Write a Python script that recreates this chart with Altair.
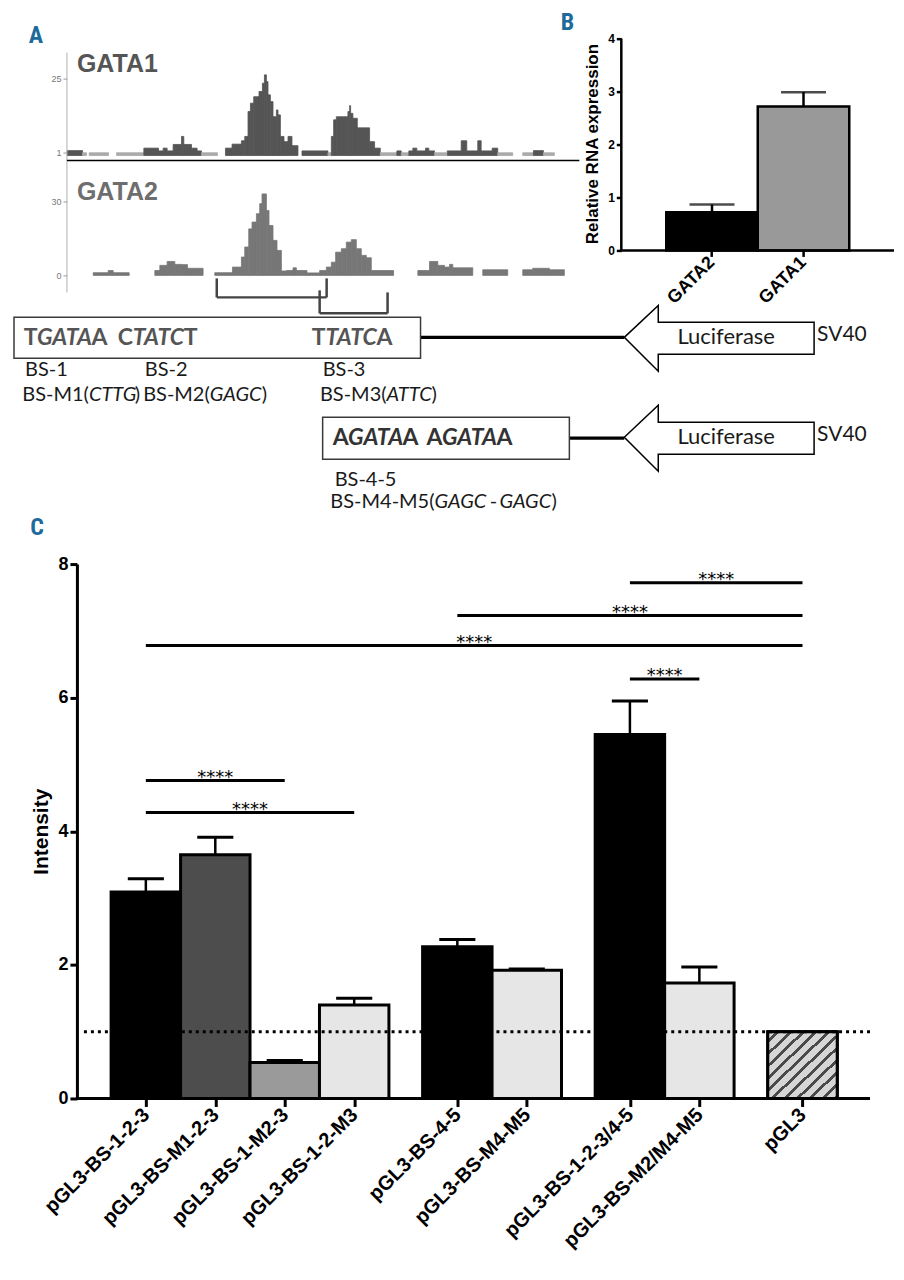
import json
import altair as alt
import pandas as pd

SANS = "Liberation Sans"
HUMAN = "Lato"
NARROW = "Liberation Sans Narrow, Roboto Condensed, Liberation Sans"
BLUE = "#1d6a9b"

# ---------------- data ----------------
# Panel A: ChIP-seq coverage (start, end, signal) along the locus
gata1_segments = [
    (7.3, 22.7, 1.6), (22.7, 26.7, 0.9), (29.3, 48.7, 0.9), (56.7, 84.0, 0.9),
    (84.0, 98.7, 2.4), (98.7, 103.3, 1.5), (103.3, 107.3, 2.4), (107.3, 113.3, 1.5),
    (113.3, 121.7, 3.6), (121.7, 124.0, 6.2), (124.0, 131.7, 3.6), (131.7, 137.3, 2.4),
    (137.3, 141.7, 1.5), (141.7, 157.7, 0.9), (165.7, 172.3, 2.4), (172.3, 181.7, 3.7),
    (181.7, 185.0, 4.8), (185.0, 188.3, 6.2), (188.3, 190.7, 14.3), (190.7, 194.0, 17.0),
    (194.0, 199.3, 19.1), (199.3, 202.7, 20.8), (202.7, 204.7, 23.5), (204.7, 206.7, 26.2),
    (206.7, 208.3, 24.0), (208.3, 210.7, 19.7), (210.7, 213.3, 17.5), (213.3, 216.7, 12.6),
    (216.7, 218.3, 14.8), (218.3, 220.7, 13.2), (220.7, 224.3, 6.2), (224.3, 228.3, 4.5),
    (228.3, 232.3, 6.2), (232.3, 238.3, 3.2), (242.3, 268.3, 1.5), (268.3, 271.7, 0.9),
    (271.7, 274.0, 6.2), (274.0, 276.7, 11.6), (276.7, 288.3, 12.6), (288.3, 290.0, 14.3),
    (290.0, 291.0, 16.2), (291.0, 293.3, 13.7), (293.3, 297.7, 12.1), (297.7, 310.0, 9.0),
    (310.0, 315.0, 4.5), (315.0, 320.7, 2.4), (320.7, 337.3, 0.9), (337.3, 341.7, 1.5),
    (341.7, 349.3, 0.9), (349.3, 353.3, 1.5), (353.3, 357.3, 2.4), (357.3, 366.0, 1.5),
    (366.0, 369.3, 2.4), (369.3, 375.0, 1.5), (375.0, 386.7, 0.9), (387.7, 401.7, 1.5),
    (401.7, 407.3, 4.8), (407.3, 418.3, 1.5), (418.3, 421.7, 4.8), (421.7, 432.7, 1.5),
    (432.7, 438.3, 2.4), (438.3, 453.3, 0.9), (463.3, 474.0, 0.9), (474.0, 484.0, 1.6),
    (484.0, 495.0, 0.9),
]
gata2_segments = [
    (33.3, 48.3, 1.1), (48.3, 53.3, 2.0), (53.3, 69.3, 1.1), (95.0, 100.0, 2.0),
    (100.0, 107.3, 4.1), (107.3, 115.0, 5.7), (115.0, 121.7, 4.5), (121.7, 127.7, 4.4),
    (127.7, 143.3, 2.9), (155.0, 172.7, 1.1), (172.7, 181.7, 3.4), (181.7, 185.0, 7.5),
    (185.0, 189.0, 11.6), (189.0, 192.3, 19.0), (192.3, 196.7, 21.8), (196.7, 200.0, 25.2),
    (200.0, 202.3, 29.3), (202.3, 206.7, 33.3), (206.7, 209.3, 26.5), (209.3, 213.3, 20.4),
    (213.3, 217.3, 14.3), (217.3, 221.7, 10.2), (221.7, 226.7, 1.8), (226.7, 233.3, 2.0),
    (233.3, 236.7, 3.1), (236.7, 247.3, 2.0), (247.3, 260.0, 1.0), (260.0, 266.7, 2.0),
    (266.7, 271.7, 3.4), (271.7, 276.0, 5.4), (276.0, 281.7, 9.5), (281.7, 286.7, 10.9),
    (286.7, 291.7, 13.6), (291.7, 296.7, 14.6), (296.7, 301.7, 10.9), (301.7, 306.7, 8.2),
    (306.7, 311.7, 7.2), (311.7, 334.0, 2.0), (358.3, 370.0, 2.0), (370.0, 378.3, 5.7),
    (378.3, 385.0, 4.1), (385.0, 390.0, 3.4), (390.0, 393.3, 4.5), (393.3, 413.3, 3.1),
    (423.3, 448.3, 2.3), (463.3, 473.3, 2.3), (473.3, 490.0, 2.9), (490.0, 505.0, 2.3),
]
gata1_ticks = [1, 25]
gata2_ticks = [0, 30]

# Panel B
rna_gene = ["GATA2", "GATA1"]
rna_mean = [0.72, 2.72]
rna_upper = [0.87, 2.99]

# Panel C
construct = ["pGL3-BS-1-2-3", "pGL3-BS-M1-2-3", "pGL3-BS-1-M2-3", "pGL3-BS-1-2-M3",
             "pGL3-BS-4-5", "pGL3-BS-M4-M5", "pGL3-BS-1-2-3/4-5", "pGL3-BS-M2/M4-M5", "pGL3"]
construct_group = [0, 0, 0, 0, 1, 1, 2, 2, 3]
intensity_mean = [3.09, 3.65, 0.54, 1.40, 2.27, 1.92, 5.45, 1.73, 1.00]
intensity_upper = [3.29, 3.91, 0.57, 1.50, 2.38, 1.94, 5.95, 1.97, None]
sig_from = ["pGL3-BS-1-2-3", "pGL3-BS-1-2-3", "pGL3-BS-1-2-3/4-5",
            "pGL3-BS-1-2-3", "pGL3-BS-4-5", "pGL3-BS-1-2-3/4-5"]
sig_to = ["pGL3-BS-1-M2-3", "pGL3-BS-1-2-M3", "pGL3-BS-M2/M4-M5", "pGL3", "pGL3", "pGL3"]
sig_level = [4.76, 4.28, 6.28, 6.78, 7.23, 7.72]
sig_mark = ["****"] * 6

# ---------------- styles ----------------
construct_fill = ["#000000", "#4d4d4d", "#9a9a9a", "#e6e6e6", "#000000",
                  "#e6e6e6", "#000000", "#e6e6e6", "#d4d4d4"]
letter_style = dict(font=NARROW, fontSize=24, fontWeight="bold", color=BLUE,
                    align="center", baseline="middle")
ONE = pd.DataFrame({"t": [0]})


def rule(x, x2, y, y2, **kw):
    return alt.Chart(ONE).mark_rule(**kw).encode(
        x=alt.value(x), x2=alt.value(x2), y=alt.value(y), y2=alt.value(y2))


def label(text, x, y, **kw):
    return alt.Chart(pd.DataFrame({"t": [text]})).mark_text(**kw).encode(
        text="t:N", x=alt.value(x), y=alt.value(y))


ROW_W = 888

# ---------------- Row 1: panel A tracks + panel B ----------------
track_x = alt.Scale(domain=[-52, 836], nice=False, zero=False)


def track(segments, ticks, ydom, dark, light):
    df = pd.DataFrame(segments, columns=["start", "end", "signal"])
    shade = alt.condition(alt.datum.signal < 1, alt.value(light), alt.value(dark))
    return alt.Chart(df).mark_rect(strokeWidth=0.8).encode(
        x=alt.X("start:Q", scale=track_x, axis=None),
        x2="end:Q",
        y=alt.Y("signal:Q", scale=alt.Scale(domain=ydom, nice=False, zero=False),
                axis=alt.Axis(orient="left", offset=-59, values=ticks, format="d", title=None, grid=False,
                              labelFontSize=9, labelColor="#777", tickColor="#999", tickSize=4,
                              domain=False, tickWidth=1, labelPadding=2)),
        y2=alt.datum(0),
        fill=shade,
        stroke=shade,
    )


gata1 = track(gata1_segments, gata1_ticks, [-44.44, 47.68], "#555555", "#aaaaaa")
gata2 = track(gata2_segments, gata2_ticks, [-6.94, 108.98], "#777777", "#777777")

rna = pd.DataFrame({"gene": rna_gene, "mean": rna_mean, "upper": rna_upper})
bx_scale = alt.Scale(domain=rna_gene, range=[659, 842.2], paddingInner=0, paddingOuter=0)
by_scale = alt.Scale(domain=[-0.792, 4.566], nice=False, zero=False)
bx = alt.X("gene:N", sort=rna_gene, scale=bx_scale,
           axis=alt.Axis(orient="bottom", offset=-42, title=None, labelAngle=-45, labelAlign="right",
                         labelBaseline="middle", labelFontSize=18, labelFontWeight="bold", tickSize=6,
                         tickWidth=2.5, domain=False, labelPadding=3))
by = alt.Y("mean:Q", scale=by_scale,
           axis=alt.Axis(orient="left", offset=-614, values=[0, 1, 2, 3, 4], format="d",
                         title="Relative RNA expression", titleFontSize=17, titleFontWeight="bold",
                         titleY=135, labelFontSize=12, labelFontWeight="bold", tickSize=5, tickWidth=2.5,
                         domain=False, grid=False, titlePadding=6, labelPadding=2))
b_bars = alt.Chart(rna).mark_bar(stroke="black", strokeWidth=2.5).encode(
    x=bx, y=by,
    fill=alt.Fill("gene:N", scale=alt.Scale(domain=rna_gene, range=["#000000", "#999999"]), legend=None))
b_stem = alt.Chart(rna).mark_rule(strokeWidth=2.5, color="black").encode(
    x=alt.X("gene:N", sort=rna_gene), y="mean:Q", y2="upper:Q")
b_cap = alt.Chart(rna).mark_tick(size=45, thickness=2.5, color="black").encode(
    x=alt.X("gene:N", sort=rna_gene), y="upper:Q")
panel_b = alt.layer(b_stem, b_bars, b_cap)

row1_deco = alt.layer(
    rule(59, 59, 44, 284, color="#b0b0b0", strokeWidth=1),              # track y axis line
    rule(59, 572, 152, 152, color="black", strokeWidth=1.5),            # track separator
    rule(614, 614, 30, 242, color="black", strokeWidth=2.5),            # panel B y axis line
    rule(614, 887, 242, 242, color="black", strokeWidth=2.5),           # panel B x axis line
    label("GATA1", 69, 55, font=SANS, fontSize=25, fontWeight="bold", color="#555555",
          align="left", baseline="middle"),
    label("GATA2", 69, 184, font=SANS, fontSize=25, fontWeight="bold", color="#6e6e6e",
          align="left", baseline="middle"),
    label("A", 28, 27, **letter_style),
    label("B", 560, 14, **letter_style),
)

row1 = (alt.layer(gata1, gata2, panel_b, row1_deco)
        .resolve_scale(x="independent", y="independent", fill="independent", stroke="independent")
        .properties(width=ROW_W, height=284))

# ---------------- Row 2: schematic (layout, pixel coordinates) ----------------
boxes = pd.DataFrame({"x": [6, 315], "y": [25, 125], "x2": [413, 562], "y2": [66, 167]})
connectors = pd.DataFrame({"x": [413, 562], "y": [45, 146], "x2": [617, 617], "y2": [45, 146]})
brackets = pd.DataFrame({
    "x": [209, 209, 319, 312, 312, 380],
    "y": [-14, 5, -14, -2, 21, 0],
    "x2": [209, 319, 319, 312, 380, 380],
    "y2": [5, 5, 5, 21, 21, 21],
})
arrows = pd.DataFrame({"x": [617, 617], "y": [45, 145]})
ARROW = "M0,0 L34,-32 L34,-15 L190,-15 L190,17 L34,17 L34,34 Z"

# motifs: flanking base, italic core, flanking base, core centre x, y, colour
motifs = [
    ("T", "GATA", "A", 56.5, 46, "#555555"),
    ("C", "TATC", "T", 150.5, 46, "#555555"),
    ("T", "TATC", "A", 343.5, 46, "#555555"),
    ("A", "GATA", "A", 368, 146, "#333333"),
    ("A", "GATA", "A", 462, 146, "#333333"),
]
core_width = {"GATA": 53, "TATC": 50}
rows = []
for left, core, right, cx, cy, col in motifs:
    half = core_width[core] / 2
    rows.append((left, cx - half - 0.5, cy, "mr", "right", col))
    rows.append((core, cx, cy, "mi", "center", col))
    rows.append((right, cx + half + 0.5, cy, "mr", "left", col))

INK = "#1a1a1a"
rows += [
    ("BS-1", 17, 78, "r", "left", INK), ("BS-2", 137, 78, "r", "left", INK), ("BS-3", 315, 78, "r", "left", INK),
    ("BS-M1(", 81, 103, "r", "right", INK), ("CTTG", 81, 103, "i", "left", INK), (")", 127, 103, "r", "left", INK),
    ("BS-M2(", 202, 103, "r", "right", INK), ("GAGC", 202, 103, "i", "left", INK), (")", 254, 103, "r", "left", INK),
    ("BS-M3(", 379, 103, "r", "right", INK), ("ATTC", 379, 103, "i", "left", INK), (")", 424, 103, "r", "left", INK),
    ("BS-4-5", 327, 188, "r", "left", INK),
    ("BS-M4-M5(", 427, 210, "r", "right", INK), ("GAGC", 427, 210, "i", "left", INK),
    ("-", 486, 210, "r", "center", INK), ("GAGC", 492, 210, "i", "left", INK), (")", 544, 210, "r", "left", INK),
    ("Luciferase", 719, 45, "luc", "center", INK), ("Luciferase", 719, 145, "luc", "center", INK),
    ("SV40", 810, 43, "sv", "left", INK), ("SV40", 810, 143, "sv", "left", INK),
]
pieces = pd.DataFrame(rows, columns=["text", "x", "y", "style", "align", "color"])
piece_style = {
    "mr": dict(fontSize=23, fontWeight="bold"),
    "mi": dict(fontSize=23, fontWeight="bold", fontStyle="italic"),
    "r": dict(fontSize=20),
    "i": dict(fontSize=20, fontStyle="italic"),
    "luc": dict(fontSize=22),
    "sv": dict(fontSize=21),
}

PX = dict(x=alt.X("x:Q", scale=None, axis=None), y=alt.Y("y:Q", scale=None, axis=None))

s_boxes = alt.Chart(boxes).mark_rect(fill="white", stroke="#3a3a3a", strokeWidth=1.5).encode(
    x2="x2:Q", y2="y2:Q", **PX)
s_conn = alt.Chart(connectors).mark_rule(color="black", strokeWidth=3.2).encode(x2="x2:Q", y2="y2:Q", **PX)
s_brk = alt.Chart(brackets).mark_rule(color="#444444", strokeWidth=2.5).encode(x2="x2:Q", y2="y2:Q", **PX)
s_arrow = alt.Chart(arrows).mark_point(shape=ARROW, size=4, filled=True, fill="white", stroke="black",
                                       strokeWidth=1.5, opacity=1).encode(**PX)

text_layers = []
for (st, al), _ in pieces.groupby(["style", "align"]):
    text_layers.append(
        alt.Chart(pieces)
        .transform_filter((alt.datum.style == st) & (alt.datum.align == al))
        .mark_text(font=HUMAN, align=al, baseline="middle", **piece_style[st])
        .encode(text="text:N", color=alt.Color("color:N", scale=None), **PX)
    )

schematic = alt.layer(s_brk, s_conn, s_boxes, s_arrow, *text_layers,
                      label("C", 29, 236, **letter_style)).properties(width=ROW_W, height=272)

# ---------------- Row 3: panel C ----------------
c_df = pd.DataFrame({"name": construct, "group": construct_group,
                     "mean": intensity_mean, "upper": intensity_upper})
c_df["idx"] = range(len(c_df))
c_df["pos"] = 200 * c_df["idx"] + 97 * c_df["group"]
pos_of = dict(zip(c_df["name"], c_df["pos"]))

sig_df = pd.DataFrame({"a": sig_from, "b": sig_to, "h": sig_level, "mark": sig_mark})
sig_df["xa"] = sig_df["a"].map(pos_of)
sig_df["xb"] = sig_df["b"].map(pos_of)
sig_df["xm"] = (sig_df["xa"] + sig_df["xb"]) / 2

positions = [int(p) for p in c_df["pos"]]
label_expr = f"{json.dumps(construct)}[indexof({json.dumps(positions)}, datum.value)]"

C_H = 535
xs = alt.Scale(domain=[-396.96, 2157.4], nice=False, zero=False)
ys = alt.Scale(domain=[0, 8], nice=False)
x_axis = alt.Axis(values=positions, labelExpr=label_expr, labelAngle=-45, labelAlign="right",
                  labelBaseline="middle", labelFontSize=20, labelFontWeight="bold",
                  tickSize=8, tickWidth=3, domain=False, grid=False, title=None, labelPadding=5,
                  labelOverlap=False, labelFlush=False, labelLimit=0)
y_axis = alt.Axis(orient="left", offset=-69, values=[0, 2, 4, 6, 8], format="d", labelFontSize=18,
                  labelFontWeight="bold", tickSize=7, tickWidth=3, domainWidth=3, grid=False,
                  title="Intensity", titleFontSize=21, titleFontWeight="bold", titlePadding=6, labelPadding=2)

c_base = alt.Chart(c_df).transform_calculate(x0="datum.pos - 100", x1="datum.pos + 100",
                                             c0="datum.pos - 52", c1="datum.pos + 52")
c_bars = c_base.mark_bar(stroke="black", strokeWidth=3).encode(
    x=alt.X("x0:Q", scale=xs, axis=x_axis), x2="x1:Q",
    y=alt.Y("mean:Q", scale=ys, axis=y_axis), y2=alt.datum(0),
    fill=alt.Fill("name:N", scale=alt.Scale(domain=construct, range=construct_fill), legend=None))

stops = []
N_STRIPES = 11
for k in range(N_STRIPES):
    a, b, c = k / N_STRIPES, (k + 0.68) / N_STRIPES, (k + 1) / N_STRIPES
    stops += [alt.GradientStop(offset=a, color="#d6d6d6"), alt.GradientStop(offset=b, color="#d6d6d6"),
              alt.GradientStop(offset=b, color="#4a4a4a"), alt.GradientStop(offset=c, color="#4a4a4a")]
hatch = alt.LinearGradient(gradient="linear", stops=stops, x1=0, y1=0, x2=1, y2=1)
c_hatch = c_base.transform_filter(alt.datum.name == "pGL3").mark_bar(
    fill=hatch, stroke="black", strokeWidth=3).encode(x="x0:Q", x2="x1:Q", y="mean:Q", y2=alt.datum(0))

c_stem = c_base.transform_filter("isValid(datum.upper)").mark_rule(strokeWidth=2.5, color="black").encode(
    x="pos:Q", y="mean:Q", y2="upper:Q")
c_cap = c_base.transform_filter("isValid(datum.upper)").mark_rule(strokeWidth=3, color="black").encode(
    x="c0:Q", x2="c1:Q", y="upper:Q")
c_dots = alt.Chart(ONE).mark_rule(strokeDash=[3, 4], strokeWidth=3, color="black").encode(
    y=alt.datum(1), x=alt.value(76), x2=alt.value(866))
c_sig = alt.Chart(sig_df).mark_rule(strokeWidth=3, color="black").encode(x="xa:Q", x2="xb:Q", y="h:Q")
c_sig_t = alt.Chart(sig_df).mark_text(font="DejaVu Sans", fontSize=18, align="center", baseline="alphabetic",
                                      dy=2, color="black").encode(x="xm:Q", y="h:Q", text="mark:N")
c_xline = rule(69, 863, C_H, C_H, color="black", strokeWidth=3)

row3 = alt.layer(c_bars, c_hatch, c_stem, c_cap, c_dots, c_sig, c_sig_t, c_xline).properties(
    width=ROW_W, height=C_H)

chart = (alt.vconcat(row1, schematic, row3, spacing=0, bounds="flush")
         .resolve_scale(fill="independent", color="independent", stroke="independent")
         .properties(padding=0)
         .configure_view(stroke=None)
         .configure_axis(labelFont=SANS, titleFont=SANS, labelColor="black", titleColor="black",
                         tickColor="black", domainColor="black"))

chart.save("out.html", embed_options={"renderer": "svg", "actions": False})
